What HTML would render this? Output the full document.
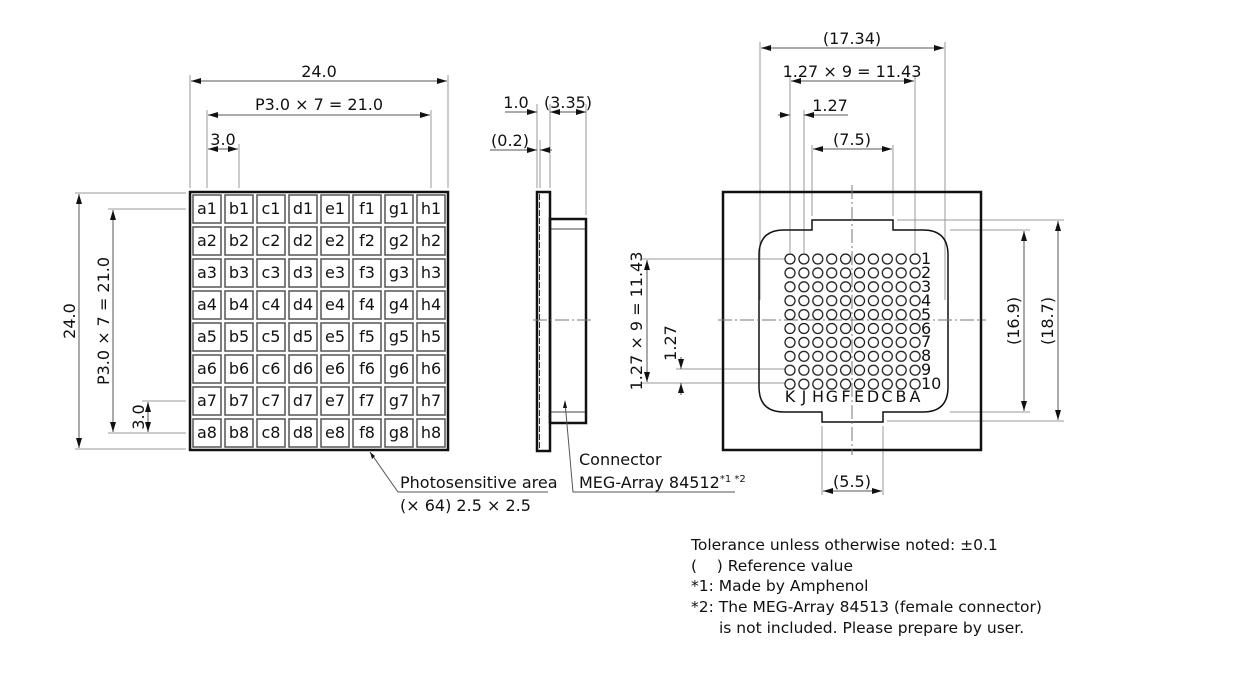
<!DOCTYPE html>
<html><head><meta charset="utf-8"><style>
body{margin:0;background:#fff}
svg{display:block}
text{font-family:"DejaVu Sans",Verdana,sans-serif;font-size:16px;fill:#111}
.n{font-size:15.5px;white-space:pre}
.d{stroke:#555;stroke-width:1;fill:none}
.e{stroke:#999;stroke-width:1;fill:none}
.c{stroke:#777;stroke-width:1;stroke-dasharray:14 3 2 3;fill:none}
</style></head><body>
<svg width="1257" height="700" viewBox="0 0 1257 700" xmlns="http://www.w3.org/2000/svg" xml:space="preserve">
<defs>
<marker id="a" viewBox="0 0 10 6" refX="10" refY="3" markerWidth="10" markerHeight="6" markerUnits="userSpaceOnUse" orient="auto-start-reverse"><path d="M0,0 L10,3 L0,6z" fill="#111"/></marker>
<pattern id="pp" x="783.05" y="252.05" width="13.9" height="13.9" patternUnits="userSpaceOnUse">
<circle cx="6.95" cy="6.95" r="5" fill="none" stroke="#111" stroke-width="1.2"/>
</pattern>
</defs>

<!-- LEFT VIEW -->
<g class="e">
<line x1="190" y1="75" x2="190" y2="188"/><line x1="448" y1="75" x2="448" y2="188"/>
<line x1="207" y1="110" x2="207" y2="188"/><line x1="431" y1="110" x2="431" y2="188"/>
<line x1="239" y1="144" x2="239" y2="188"/>
<line x1="75" y1="193" x2="186" y2="193"/><line x1="75" y1="449" x2="186" y2="449"/>
<line x1="108" y1="209" x2="186" y2="209"/><line x1="108" y1="433" x2="186" y2="433"/>
<line x1="142" y1="401" x2="186" y2="401"/>
</g>
<g class="d">
<line x1="191" y1="81" x2="447" y2="81" marker-start="url(#a)" marker-end="url(#a)"/>
<line x1="208" y1="115" x2="430" y2="115" marker-start="url(#a)" marker-end="url(#a)"/>
<line x1="208" y1="149" x2="238" y2="149" marker-start="url(#a)" marker-end="url(#a)"/>
<line x1="79" y1="194" x2="79" y2="448" marker-start="url(#a)" marker-end="url(#a)"/>
<line x1="113" y1="210" x2="113" y2="432" marker-start="url(#a)" marker-end="url(#a)"/>
<line x1="148" y1="402" x2="148" y2="432" marker-start="url(#a)" marker-end="url(#a)"/>
</g>
<text x="319" y="77" text-anchor="middle">24.0</text>
<text x="319" y="110" text-anchor="middle">P3.0 × 7 = 21.0</text>
<text x="223" y="145" text-anchor="middle">3.0</text>
<text transform="translate(75,321) rotate(-90)" text-anchor="middle">24.0</text>
<text transform="translate(109,321) rotate(-90)" text-anchor="middle">P3.0 × 7 = 21.0</text>
<text transform="translate(144,417) rotate(-90)" text-anchor="middle">3.0</text>

<rect x="190" y="192" width="258" height="258" fill="none" stroke="#111" stroke-width="2.5"/>
<g fill="none" stroke="#555" stroke-width="1.5">
<rect x="193" y="195" width="28" height="28"/><rect x="225" y="195" width="28" height="28"/><rect x="257" y="195" width="28" height="28"/><rect x="289" y="195" width="28" height="28"/><rect x="321" y="195" width="28" height="28"/><rect x="353" y="195" width="28" height="28"/><rect x="385" y="195" width="28" height="28"/><rect x="417" y="195" width="28" height="28"/>
<rect x="193" y="227" width="28" height="28"/><rect x="225" y="227" width="28" height="28"/><rect x="257" y="227" width="28" height="28"/><rect x="289" y="227" width="28" height="28"/><rect x="321" y="227" width="28" height="28"/><rect x="353" y="227" width="28" height="28"/><rect x="385" y="227" width="28" height="28"/><rect x="417" y="227" width="28" height="28"/>
<rect x="193" y="259" width="28" height="28"/><rect x="225" y="259" width="28" height="28"/><rect x="257" y="259" width="28" height="28"/><rect x="289" y="259" width="28" height="28"/><rect x="321" y="259" width="28" height="28"/><rect x="353" y="259" width="28" height="28"/><rect x="385" y="259" width="28" height="28"/><rect x="417" y="259" width="28" height="28"/>
<rect x="193" y="291" width="28" height="28"/><rect x="225" y="291" width="28" height="28"/><rect x="257" y="291" width="28" height="28"/><rect x="289" y="291" width="28" height="28"/><rect x="321" y="291" width="28" height="28"/><rect x="353" y="291" width="28" height="28"/><rect x="385" y="291" width="28" height="28"/><rect x="417" y="291" width="28" height="28"/>
<rect x="193" y="323" width="28" height="28"/><rect x="225" y="323" width="28" height="28"/><rect x="257" y="323" width="28" height="28"/><rect x="289" y="323" width="28" height="28"/><rect x="321" y="323" width="28" height="28"/><rect x="353" y="323" width="28" height="28"/><rect x="385" y="323" width="28" height="28"/><rect x="417" y="323" width="28" height="28"/>
<rect x="193" y="355" width="28" height="28"/><rect x="225" y="355" width="28" height="28"/><rect x="257" y="355" width="28" height="28"/><rect x="289" y="355" width="28" height="28"/><rect x="321" y="355" width="28" height="28"/><rect x="353" y="355" width="28" height="28"/><rect x="385" y="355" width="28" height="28"/><rect x="417" y="355" width="28" height="28"/>
<rect x="193" y="387" width="28" height="28"/><rect x="225" y="387" width="28" height="28"/><rect x="257" y="387" width="28" height="28"/><rect x="289" y="387" width="28" height="28"/><rect x="321" y="387" width="28" height="28"/><rect x="353" y="387" width="28" height="28"/><rect x="385" y="387" width="28" height="28"/><rect x="417" y="387" width="28" height="28"/>
<rect x="193" y="419" width="28" height="28"/><rect x="225" y="419" width="28" height="28"/><rect x="257" y="419" width="28" height="28"/><rect x="289" y="419" width="28" height="28"/><rect x="321" y="419" width="28" height="28"/><rect x="353" y="419" width="28" height="28"/><rect x="385" y="419" width="28" height="28"/><rect x="417" y="419" width="28" height="28"/>
</g>
<g font-size="12.5" text-anchor="middle">
<text x="207" y="214">a1</text><text x="239" y="214">b1</text><text x="271" y="214">c1</text><text x="303" y="214">d1</text><text x="335" y="214">e1</text><text x="367" y="214">f1</text><text x="399" y="214">g1</text><text x="431" y="214">h1</text>
<text x="207" y="246">a2</text><text x="239" y="246">b2</text><text x="271" y="246">c2</text><text x="303" y="246">d2</text><text x="335" y="246">e2</text><text x="367" y="246">f2</text><text x="399" y="246">g2</text><text x="431" y="246">h2</text>
<text x="207" y="278">a3</text><text x="239" y="278">b3</text><text x="271" y="278">c3</text><text x="303" y="278">d3</text><text x="335" y="278">e3</text><text x="367" y="278">f3</text><text x="399" y="278">g3</text><text x="431" y="278">h3</text>
<text x="207" y="310">a4</text><text x="239" y="310">b4</text><text x="271" y="310">c4</text><text x="303" y="310">d4</text><text x="335" y="310">e4</text><text x="367" y="310">f4</text><text x="399" y="310">g4</text><text x="431" y="310">h4</text>
<text x="207" y="342">a5</text><text x="239" y="342">b5</text><text x="271" y="342">c5</text><text x="303" y="342">d5</text><text x="335" y="342">e5</text><text x="367" y="342">f5</text><text x="399" y="342">g5</text><text x="431" y="342">h5</text>
<text x="207" y="374">a6</text><text x="239" y="374">b6</text><text x="271" y="374">c6</text><text x="303" y="374">d6</text><text x="335" y="374">e6</text><text x="367" y="374">f6</text><text x="399" y="374">g6</text><text x="431" y="374">h6</text>
<text x="207" y="406">a7</text><text x="239" y="406">b7</text><text x="271" y="406">c7</text><text x="303" y="406">d7</text><text x="335" y="406">e7</text><text x="367" y="406">f7</text><text x="399" y="406">g7</text><text x="431" y="406">h7</text>
<text x="207" y="438">a8</text><text x="239" y="438">b8</text><text x="271" y="438">c8</text><text x="303" y="438">d8</text><text x="335" y="438">e8</text><text x="367" y="438">f8</text><text x="399" y="438">g8</text><text x="431" y="438">h8</text>
</g>

<!-- SIDE VIEW -->
<g class="e">
<line x1="537" y1="104" x2="537" y2="188"/><line x1="550" y1="104" x2="550" y2="188"/>
<line x1="540" y1="140" x2="540" y2="188"/><line x1="586" y1="104" x2="586" y2="215"/>
</g>
<g class="d">
<line x1="505" y1="112" x2="537" y2="112" marker-end="url(#a)"/>
<line x1="550" y1="112" x2="586" y2="112" marker-start="url(#a)" marker-end="url(#a)"/>
<line x1="490" y1="150" x2="537" y2="150" marker-end="url(#a)"/>
<line x1="552" y1="150" x2="540" y2="150" marker-end="url(#a)"/>
</g>
<text x="516" y="108" text-anchor="middle">1.0</text>
<text x="568" y="108" text-anchor="middle" font-size="14">(3.35)</text>
<text x="510" y="146" text-anchor="middle">(0.2)</text>
<rect x="537" y="192" width="13" height="259" fill="none" stroke="#111" stroke-width="2.5"/>
<line x1="539.5" y1="194" x2="539.5" y2="449" stroke="#333" stroke-width="1" stroke-dasharray="6 2"/>
<rect x="550" y="219" width="36" height="204" fill="none" stroke="#111" stroke-width="2.5"/>
<line x1="551" y1="229" x2="585" y2="229" stroke="#444"/>
<line x1="551" y1="412" x2="585" y2="412" stroke="#444"/>
<line x1="533" y1="320" x2="592" y2="320" class="c"/>

<!-- RIGHT VIEW -->
<g class="e">
<line x1="760" y1="42" x2="760" y2="300"/><line x1="945" y1="42" x2="945" y2="300"/>
<line x1="790" y1="75" x2="790" y2="253"/><line x1="915" y1="75" x2="915" y2="253"/>
<line x1="804" y1="110" x2="804" y2="253"/>
<line x1="812" y1="145" x2="812" y2="216"/><line x1="893" y1="145" x2="893" y2="216"/>
<line x1="897" y1="220" x2="1064" y2="220"/><line x1="950" y1="230" x2="1030" y2="230"/>
<line x1="950" y1="412" x2="1030" y2="412"/><line x1="887" y1="421" x2="1064" y2="421"/>
<line x1="822" y1="426" x2="822" y2="495"/><line x1="883" y1="426" x2="883" y2="495"/>
<line x1="642" y1="259" x2="785" y2="259"/><line x1="642" y1="383" x2="785" y2="383"/>
<line x1="676" y1="369" x2="785" y2="369"/>
</g>
<g class="d">
<line x1="761" y1="48" x2="944" y2="48" marker-start="url(#a)" marker-end="url(#a)"/>
<line x1="791" y1="81" x2="914" y2="81" marker-start="url(#a)" marker-end="url(#a)"/>
<line x1="778" y1="115" x2="790" y2="115" marker-end="url(#a)"/>
<line x1="848" y1="115" x2="804" y2="115" marker-end="url(#a)"/>
<line x1="813" y1="149" x2="892" y2="149" marker-start="url(#a)" marker-end="url(#a)"/>
<line x1="1024" y1="231" x2="1024" y2="411" marker-start="url(#a)" marker-end="url(#a)"/>
<line x1="1058" y1="221" x2="1058" y2="420" marker-start="url(#a)" marker-end="url(#a)"/>
<line x1="647" y1="260" x2="647" y2="382" marker-start="url(#a)" marker-end="url(#a)"/>
<line x1="681" y1="357" x2="681" y2="369" marker-end="url(#a)"/>
<line x1="681" y1="395" x2="681" y2="383" marker-end="url(#a)"/>
<line x1="823" y1="491" x2="882" y2="491" marker-start="url(#a)" marker-end="url(#a)"/>
</g>
<text x="852" y="44" text-anchor="middle">(17.34)</text>
<text x="852" y="77" text-anchor="middle">1.27 × 9 = 11.43</text>
<text x="830" y="111" text-anchor="middle">1.27</text>
<text x="852" y="145" text-anchor="middle">(7.5)</text>
<text x="852" y="487" text-anchor="middle">(5.5)</text>
<text transform="translate(1019,321) rotate(-90)" text-anchor="middle">(16.9)</text>
<text transform="translate(1053,321) rotate(-90)" text-anchor="middle">(18.7)</text>
<text transform="translate(642,321) rotate(-90)" text-anchor="middle">1.27 × 9 = 11.43</text>
<text transform="translate(676,343) rotate(-90)" text-anchor="middle">1.27</text>

<rect x="723" y="192" width="258" height="258" fill="none" stroke="#111" stroke-width="2.5"/>
<path d="M812,230 L812,220 L893,220 L893,230 L923,230 Q948,230 948,255 L948,387 Q948,412 923,412 L883,412 L883,422 L822,422 L822,412 L784,412 Q759,412 759,387 L759,255 Q759,230 784,230 Z" fill="none" stroke="#111" stroke-width="1.5"/>
<line x1="852" y1="185" x2="852" y2="455" class="c"/>
<line x1="718" y1="320" x2="986" y2="320" class="c"/>
<rect x="783.05" y="252.05" width="139" height="139" fill="url(#pp)"/>
<g font-size="13.5">
<text x="921" y="264">1</text><text x="921" y="278">2</text><text x="921" y="292">3</text><text x="921" y="306">4</text><text x="921" y="320">5</text><text x="921" y="334">6</text><text x="921" y="347">7</text><text x="921" y="361">8</text><text x="921" y="375">9</text><text x="921" y="389">10</text>
<text x="790" y="402" text-anchor="middle">K</text><text x="804" y="402" text-anchor="middle">J</text><text x="818" y="402" text-anchor="middle">H</text><text x="832" y="402" text-anchor="middle">G</text><text x="846" y="402" text-anchor="middle">F</text><text x="859" y="402" text-anchor="middle">E</text><text x="873" y="402" text-anchor="middle">D</text><text x="887" y="402" text-anchor="middle">C</text><text x="901" y="402" text-anchor="middle">B</text><text x="915" y="402" text-anchor="middle">A</text>
</g>

<!-- leaders -->
<polyline points="370,452 398,492 548,492" fill="none" stroke="#555"/>
<polyline points="565,402 573,492 735,492" fill="none" stroke="#555"/>
<path d="M370,452 l2,7 l3,-3z" fill="#111"/>
<path d="M565,400 l-2,8 l4,0z" fill="#111"/>
<text x="400" y="488">Photosensitive area</text>
<text x="400" y="511">(× 64) 2.5 × 2.5</text>
<text x="579" y="465">Connector</text>
<text x="579" y="488">MEG-Array 84512<tspan font-size="10" dy="-6">*1 *2</tspan></text>

<text class="n" x="691" y="550">Tolerance unless otherwise noted: ±0.1</text>
<text class="n" x="691" y="571">(    ) Reference value</text>
<text class="n" x="691" y="591">*1: Made by Amphenol</text>
<text class="n" x="691" y="612">*2: The MEG-Array 84513 (female connector)</text>
<text class="n" x="719" y="633">is not included. Please prepare by user.</text>
</svg>
</body></html>
